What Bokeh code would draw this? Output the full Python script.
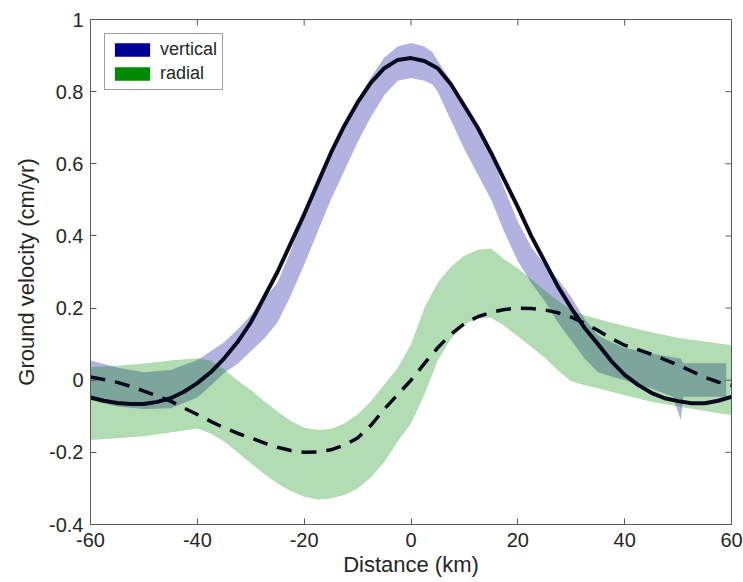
import math
from bokeh.plotting import figure
from bokeh.models import FixedTicker, Legend, LegendItem, Range1d
from bokeh.embed import file_html
from bokeh.resources import INLINE

# ---------------- data ----------------
x_ticks = [-60, -40, -20, 0, 20, 40, 60]
x_tick_labels = ["-60", "-40", "-20", "0", "20", "40", "60"]
y_ticks = [-0.4, -0.2, 0, 0.2, 0.4, 0.6, 0.8, 1]
y_tick_labels = ["-0.4", "-0.2", "0", "0.2", "0.4", "0.6", "0.8", "1"]

# vertical observed band
vert_x = [-60, -55, -50, -45, -40, -37.5, -35, -32.5, -30, -27.5, -25, -22.5, -20,
          -17.5, -15, -12.5, -10, -7.5, -5, -2.5, 0, 2.5, 4, 5, 7.5, 10, 12.5, 15,
          17.5, 20, 22.5, 25, 27.5, 30, 32.5, 35, 37.5, 40, 42.5, 45, 49, 50.5, 51, 59]
vert_lo = [-0.055, -0.073, -0.08, -0.078, -0.048, -0.015, 0.02, 0.045, 0.08, 0.115,
           0.16, 0.235, 0.32, 0.41, 0.50, 0.58, 0.66, 0.73, 0.79, 0.83, 0.838, 0.83,
           0.82, 0.80, 0.72, 0.64, 0.57, 0.50, 0.41, 0.33, 0.27, 0.22, 0.16, 0.11,
           0.06, 0.022, 0.01, 0.0, -0.012, -0.023, -0.046, -0.11, -0.046, -0.046]
vert_hi = [0.055, 0.035, 0.022, 0.028, 0.056, 0.08, 0.105, 0.14, 0.18, 0.225, 0.27,
           0.36, 0.46, 0.54, 0.62, 0.70, 0.775, 0.84, 0.895, 0.925, 0.935, 0.925, 0.91,
           0.885, 0.83, 0.76, 0.695, 0.63, 0.53, 0.44, 0.37, 0.32, 0.28, 0.23, 0.17,
           0.125, 0.105, 0.09, 0.082, 0.074, 0.064, 0.06, 0.047, 0.047]

# radial observed band
rad_x = [-60, -55, -50, -45, -40, -37.5, -35, -32.5, -30, -27.5, -25, -22.5, -20,
         -17.5, -15, -12.5, -10, -7.5, -5, -2.5, 0, 2.5, 5, 7.5, 10, 12.5, 15, 17.5,
         20, 22.5, 25, 27.5, 30, 32.5, 35, 40, 45, 50, 55, 60]
rad_lo = [-0.166, -0.161, -0.155, -0.145, -0.134, -0.148, -0.17, -0.2, -0.23, -0.26,
          -0.286, -0.307, -0.323, -0.331, -0.328, -0.318, -0.30, -0.27, -0.227, -0.17,
          -0.12, -0.04, 0.055, 0.115, 0.155, 0.172, 0.173, 0.15, 0.122, 0.093, 0.063,
          0.027, -0.003, -0.014, -0.022, -0.042, -0.06, -0.073, -0.085, -0.097]
rad_hi = [0.036, 0.04, 0.046, 0.055, 0.061, 0.055, 0.03, 0.0, -0.027, -0.058, -0.087,
          -0.113, -0.132, -0.138, -0.135, -0.12, -0.095, -0.058, -0.012, 0.034, 0.10,
          0.20, 0.27, 0.315, 0.345, 0.362, 0.365, 0.335, 0.31, 0.28, 0.25, 0.22,
          0.195, 0.18, 0.17, 0.15, 0.133, 0.118, 0.107, 0.097]

# vertical model (solid)
vmod_x = [-60, -57.5, -55, -52.5, -50, -47.5, -45, -42.5, -40, -37.5, -35, -32.5,
          -30, -27.5, -25, -22.5, -20, -17.5, -15, -12.5, -10, -7.5, -5, -2.5, 0,
          2.5, 5, 7.5, 10, 12.5, 15, 17.5, 20, 22.5, 25, 27.5, 30, 32.5, 35, 37.5,
          40, 42.5, 45, 47.5, 50, 52.5, 55, 57.5, 60]
vmod_y = [-0.048, -0.057, -0.063, -0.066, -0.066, -0.06, -0.05, -0.032, -0.008,
          0.022, 0.06, 0.105, 0.16, 0.23, 0.30, 0.38, 0.46, 0.545, 0.63, 0.705,
          0.77, 0.825, 0.865, 0.888, 0.893, 0.885, 0.865, 0.82, 0.76, 0.70, 0.63,
          0.555, 0.48, 0.40, 0.33, 0.26, 0.20, 0.145, 0.10, 0.053, 0.015, -0.013,
          -0.035, -0.05, -0.058, -0.064, -0.064, -0.057, -0.046]

# radial model (dashed)
rmod_x = [-60, -57.5, -55, -52.5, -50, -47.5, -45, -42.5, -40, -37.5, -35, -32.5,
          -30, -27.5, -25, -22.5, -20, -17.5, -15, -12.5, -10, -7.5, -5, -2.5, 0,
          2.5, 5, 7.5, 10, 12.5, 15, 17.5, 20, 22.5, 25, 27.5, 30, 32.5, 35, 37.5,
          40, 42.5, 45, 47.5, 50, 52.5, 55, 57.5, 60]
rmod_y = [0.009, 0.002, -0.006, -0.017, -0.03, -0.044, -0.058, -0.077, -0.095,
          -0.114, -0.132, -0.147, -0.16, -0.174, -0.186, -0.195, -0.2, -0.199,
          -0.193, -0.18, -0.16, -0.125, -0.08, -0.04, 0.0, 0.046, 0.09, 0.128,
          0.157, 0.176, 0.188, 0.196, 0.2, 0.199, 0.195, 0.187, 0.175, 0.158,
          0.138, 0.116, 0.097, 0.085, 0.072, 0.057, 0.042, 0.025, 0.008, -0.005,
          -0.014]

# ---------------- styling ----------------
FONT = "Liberation Sans"
TXT = "#262626"
AX = "#5a5a5a"
BLUE = "#000099"
GREEN = "#008a00"
LINE = "#0a0a1e"

p = figure(width=743, height=582, x_range=Range1d(-60, 60), y_range=Range1d(-0.4, 1),
           output_backend="svg", toolbar_location=None,
           min_border_left=90, min_border_right=12, min_border_top=19,
           min_border_bottom=58)
p.xgrid.visible = False
p.ygrid.visible = False
p.outline_line_color = AX
p.outline_line_width = 1
p.background_fill_color = "white"
p.border_fill_color = "white"

p.varea(x=vert_x, y1=vert_lo, y2=vert_hi, fill_color=BLUE, fill_alpha=0.3)
p.varea(x=rad_x, y1=rad_lo, y2=rad_hi, fill_color=GREEN, fill_alpha=0.3)
p.line(vmod_x, vmod_y, line_color=LINE, line_width=4, line_join="round")
p.line(rmod_x, rmod_y, line_color=LINE, line_width=3.5, line_dash="15 10")

# legend proxies (hidden renderers, full colour swatches)
lv = p.varea(x=vert_x, y1=vert_lo, y2=vert_hi, fill_color=BLUE, fill_alpha=1, visible=False)
lr = p.varea(x=rad_x, y1=rad_lo, y2=rad_hi, fill_color=GREEN, fill_alpha=1, visible=False)
legend = Legend(items=[LegendItem(label="vertical", renderers=[lv]),
                       LegendItem(label="radial", renderers=[lr])],
                location="top_left", margin=14, padding=5, spacing=3,
                glyph_width=44, glyph_height=17, label_standoff=6,
                label_text_font=FONT, label_text_font_size="18px",
                label_text_color=TXT, border_line_color="#444444",
                border_line_width=1, background_fill_alpha=1,
                inactive_fill_alpha=0, click_policy="none")
p.add_layout(legend)

# inward ticks on the top and right edges of the box
p.scatter(x=x_ticks[1:-1], y=[y_ticks[-1]] * (len(x_ticks) - 2), marker="dash",
          size=12, angle=math.pi / 2, line_color=AX, line_width=1)
p.scatter(x=[x_ticks[-1]] * (len(y_ticks) - 2), y=y_ticks[1:-1], marker="dash",
          size=12, line_color=AX, line_width=1)


def style(ax, ticks, labels):
    ax.ticker = FixedTicker(ticks=ticks)
    ax.major_label_overrides = {t: l for t, l in zip(ticks, labels)}
    ax.minor_tick_line_color = None
    ax.major_tick_in = 6
    ax.major_tick_out = 0
    ax.axis_line_color = AX
    ax.major_tick_line_color = AX
    ax.axis_line_width = 1
    ax.major_label_text_font = FONT
    ax.major_label_text_color = TXT
    ax.major_label_text_font_size = "20px"
    ax.axis_label_text_font = FONT
    ax.axis_label_text_color = TXT
    ax.axis_label_text_font_style = "normal"
    ax.axis_label_text_font_size = "22px"


style(p.xaxis[0], x_ticks, x_tick_labels)
style(p.yaxis[0], y_ticks, y_tick_labels)
p.xaxis[0].axis_label = "Distance (km)"
p.yaxis[0].axis_label = "Ground velocity (cm/yr)"
p.xaxis[0].major_label_standoff = 8
p.xaxis[0].axis_label_standoff = 2
p.yaxis[0].major_label_standoff = 7
p.yaxis[0].axis_label_standoff = 7

open("out.html", "w").write(file_html(p, INLINE))
